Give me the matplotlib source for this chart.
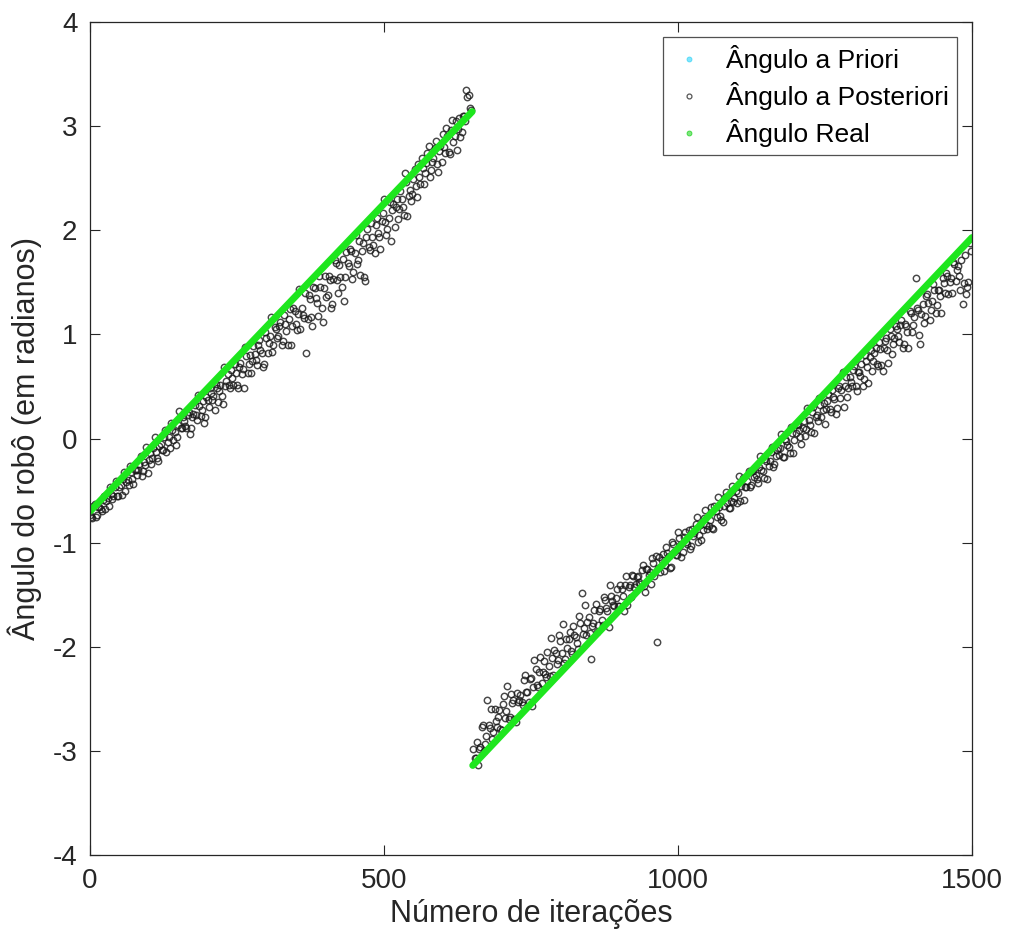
import numpy as np
import matplotlib
matplotlib.use('Agg')
import matplotlib.pyplot as plt
from matplotlib.lines import Line2D

# angulo real (inicio/fim de cada trecho, antes e depois do salto de pi)
real_iter_a = [0, 650]
real_a = [-0.70, 3.14]
real_iter_b = [651, 1500]
real_b = [-3.14, 1.93]

# angulo a posteriori, lido a cada 2 iteracoes (duas passadas: 0 mod 4 e 2 mod 4)
post_a = [
    -0.73, -0.76, -0.63, -0.73, -0.66, -0.70, -0.55, -0.60, -0.65, -0.53,
    -0.55, -0.41, -0.55, -0.45, -0.39, -0.50, -0.40, -0.26, -0.39, -0.30,
    -0.35, -0.24, -0.36, -0.23, -0.08, -0.21, -0.24, -0.09, -0.13, -0.22,
    -0.05, -0.11, 0.08, -0.03, -0.09, 0.08, 0.06, 0.01, 0.26, 0.10,
    0.17, 0.10, 0.25, 0.10, 0.24, 0.23, 0.42, 0.22, 0.36, 0.21,
    0.37, 0.49, 0.37, 0.27, 0.49, 0.46, 0.41, 0.69, 0.55, 0.51,
    0.66, 0.51, 0.63, 0.49, 0.73, 0.67, 0.88, 0.63, 0.80, 0.74,
    0.81, 0.71, 0.95, 0.82, 0.72, 0.97, 0.92, 1.17, 0.90, 1.05,
    0.98, 1.12, 0.94, 1.10, 0.90, 1.24, 1.08, 1.22, 1.04, 1.44,
    1.25, 1.16, 0.82, 1.38, 1.17, 1.46, 1.35, 1.18, 1.46, 1.12,
    1.56, 1.38, 1.52, 1.29, 1.71, 1.52, 1.67, 1.46, 1.32, 1.79,
    1.66, 1.80, 1.60, 1.95, 1.71, 1.57, 1.88, 1.51, 2.01, 1.81,
    1.94, 1.78, 2.12, 1.94, 2.09, 2.30, 1.95, 2.12, 1.90, 2.25,
    2.22, 2.11, 2.38, 2.22, 2.55, 2.14, 2.39, 2.35, 2.59, 2.32,
    2.51, 2.69, 2.44, 2.65, 2.81, 2.58, 2.69, 2.86, 2.56, 2.81,
    2.92, 2.74, 2.91, 2.73, 3.06, 2.91, 2.77, 3.08, 2.94, 3.10,
    3.35, 3.30, 3.16,
]
post_a2 = [
    -0.75, -0.65, -0.75, -0.66, -0.68, -0.59, -0.68, -0.57, -0.47, -0.58,
    -0.47, -0.55, -0.47, -0.54, -0.32, -0.42, -0.45, -0.32, -0.44, -0.30,
    -0.30, -0.17, -0.31, -0.25, -0.33, -0.14, -0.19, 0.01, -0.19, -0.07,
    -0.11, 0.01, -0.13, 0.01, 0.15, -0.01, -0.06, 0.13, 0.10, 0.21,
    0.12, 0.23, 0.04, 0.21, 0.32, 0.18, 0.31, 0.27, 0.15, 0.40,
    0.30, 0.44, 0.41, 0.52, 0.35, 0.51, 0.33, 0.50, 0.62, 0.49,
    0.58, 0.72, 0.51, 0.69, 0.62, 0.49, 0.79, 0.72, 0.63, 0.89,
    0.75, 0.90, 0.85, 0.69, 1.02, 0.82, 0.98, 0.83, 1.07, 0.97,
    1.08, 0.90, 1.19, 1.03, 1.15, 0.90, 1.25, 1.10, 1.20, 1.05,
    1.19, 1.40, 1.15, 1.34, 1.08, 1.45, 1.30, 1.56, 1.25, 1.45,
    1.36, 1.56, 1.25, 1.53, 1.69, 1.40, 1.55, 1.72, 1.55, 1.69,
    1.82, 1.53, 1.78, 1.68, 1.90, 1.80, 1.55, 1.94, 1.84, 2.07,
    1.86, 2.05, 1.97, 1.82, 2.17, 2.08, 2.01, 2.27, 2.19, 2.03,
    2.30, 2.20, 2.30, 2.15, 2.46, 2.33, 2.28, 2.49, 2.43, 2.64,
    2.44, 2.60, 2.55, 2.74, 2.51, 2.66, 2.79, 2.64, 2.76, 2.66,
    2.80, 2.98, 2.75, 2.96, 2.85, 3.05, 2.97, 2.90, 3.10, 3.05,
    3.28, 3.17,
]
post_b = [
    -2.98, -3.07, -3.14, -2.96, -2.75, -2.93, -2.51, -2.78, -2.89, -2.60,
    -2.77, -2.61, -2.80, -2.47, -2.62, -2.69, -2.45, -2.51, -2.72, -2.53,
    -2.46, -2.56, -2.27, -2.43, -2.31, -2.57, -2.13, -2.37, -2.24, -2.35,
    -2.14, -2.29, -2.18, -1.92, -2.27, -2.06, -2.13, -1.94, -1.78, -2.12,
    -2.01, -1.86, -2.07, -1.89, -1.96, -1.70, -1.48, -1.82, -1.89, -1.71,
    -2.12, -1.77, -1.59, -1.79, -1.64, -1.79, -1.55, -1.66, -1.41, -1.56,
    -1.61, -1.45, -1.61, -1.45, -1.66, -1.32, -1.43, -1.52, -1.32, -1.40,
    -1.32, -1.40, -1.21, -1.47, -1.25, -1.28, -1.15, -1.32, -1.95, -1.14,
    -1.17, -1.27, -1.04, -1.13, -1.23, -1.01, -1.12, -0.90, -1.02, -1.09,
    -0.90, -1.01, -1.06, -0.87, -0.91, -0.75, -0.93, -0.97, -0.76, -0.83,
    -0.84, -0.66, -0.87, -0.70, -0.56, -0.74, -0.80, -0.56, -0.62, -0.67,
    -0.46, -0.57, -0.62, -0.36, -0.46, -0.59, -0.47, -0.31, -0.45, -0.31,
    -0.35, -0.43, -0.17, -0.31, -0.20, -0.39, -0.22, -0.08, -0.24, -0.11,
    -0.16, 0.04, -0.18, -0.02, -0.08, 0.11, -0.14, 0.05, 0.13, 0.01,
    0.10, 0.02, 0.29, 0.13, 0.25, 0.05, 0.23, 0.39, 0.21, 0.34,
    0.28, 0.43, 0.25, 0.40, 0.24, 0.49, 0.39, 0.64, 0.50, 0.40,
    0.59, 0.50, 0.70, 0.46, 0.64, 0.72, 0.57, 0.74, 0.53, 0.85,
    0.74, 0.87, 0.70, 0.86, 0.65, 0.94, 0.85, 1.05, 0.81, 0.97,
    1.05, 0.93, 1.14, 0.91, 1.08, 0.87, 1.21, 1.09, 1.54, 1.23,
    0.91, 1.29, 1.18, 1.39, 1.14, 1.32, 1.43, 1.28, 1.43, 1.21,
    1.49, 1.59, 1.39, 1.54, 1.70, 1.51, 1.66, 1.43, 1.29, 1.76,
    1.46, 1.88,
]
post_b2 = [
    -3.07, -2.91, -2.98, -2.77, -3.00, -2.86, -2.75, -2.60, -2.82, -2.71,
    -2.67, -2.79, -2.55, -2.68, -2.38, -2.67, -2.54, -2.69, -2.44, -2.51,
    -2.53, -2.32, -2.43, -2.53, -2.30, -2.39, -2.21, -2.39, -2.10, -2.24,
    -2.26, -2.05, -2.28, -2.11, -2.03, -2.17, -1.89, -2.06, -2.16, -1.93,
    -1.93, -2.04, -1.80, -1.91, -2.02, -1.77, -1.88, -1.60, -1.76, -1.87,
    -1.80, -1.65, -1.86, -1.66, -1.74, -1.52, -1.63, -1.81, -1.51, -1.60,
    -1.53, -1.61, -1.41, -1.51, -1.41, -1.60, -1.41, -1.31, -1.43, -1.33,
    -1.38, -1.26, -1.42, -1.25, -1.31, -1.40, -1.20, -1.13, -1.24, -1.28,
    -1.11, -1.21, -1.10, -1.24, -0.99, -1.09, -1.12, -0.96, -1.14, -0.95,
    -0.99, -0.88, -1.03, -0.94, -0.82, -0.99, -0.83, -0.88, -0.69, -0.87,
    -0.78, -0.86, -0.65, -0.75, -0.66, -0.78, -0.65, -0.51, -0.67, -0.60,
    -0.61, -0.50, -0.52, -0.60, -0.38, -0.47, -0.41, -0.47, -0.31, -0.37,
    -0.39, -0.27, -0.30, -0.38, -0.22, -0.26, -0.13, -0.27, -0.17, -0.09,
    -0.09, -0.18, 0.00, -0.06, -0.14, 0.05, -0.01, 0.14, 0.08, -0.05,
    0.17, 0.09, 0.18, 0.06, 0.30, 0.21, 0.17, 0.32, 0.27, 0.14,
    0.36, 0.28, 0.47, 0.38, 0.29, 0.50, 0.47, 0.30, 0.59, 0.49,
    0.54, 0.66, 0.50, 0.64, 0.60, 0.50, 0.80, 0.69, 0.78, 0.65,
    0.82, 0.72, 0.93, 0.71, 0.87, 0.97, 0.73, 0.98, 0.91, 1.08,
    0.98, 1.09, 0.87, 1.10, 1.02, 1.22, 1.02, 1.17, 1.25, 0.99,
    1.20, 1.11, 1.37, 1.30, 1.23, 1.48, 1.21, 1.43, 1.37, 1.54,
    1.40, 1.56, 1.50, 1.40, 1.68, 1.62, 1.56, 1.71, 1.49, 1.39,
    1.50, 1.80,
]
iter_a = np.arange(0, 650, 4)
iter_a2 = np.arange(2, 650, 4)
iter_b = np.arange(652, 1500, 4)
iter_b2 = np.arange(654, 1500, 4)

plt.rcParams['font.family'] = ['Liberation Sans', 'DejaVu Sans']
plt.rcParams['axes.unicode_minus'] = False
cor_eixo = '#262626'

fig = plt.figure(figsize=(10.13, 9.5), dpi=100)
ax = fig.add_axes([0.0888, 0.1, 0.8707, 0.8768])

estilo_post = dict(ls='', marker='o', ms=4.6, mfc='none', mec='#1a1a1a',
                   mew=1.05, alpha=0.8)
for xs, ys in [(iter_a, post_a), (iter_a2, post_a2), (iter_b, post_b), (iter_b2, post_b2)]:
    ax.plot(xs, ys, **estilo_post)
ax.plot(real_iter_a, real_a, '-', color='#1ee61e', lw=5, solid_capstyle='round')
ax.plot(real_iter_b, real_b, '-', color='#1ee61e', lw=5, solid_capstyle='round')

ax.set_xlim(0, 1500)
ax.set_ylim(-4, 4)
ax.set_xticks([0, 500, 1000, 1500])
ax.set_yticks(range(-4, 5))
ax.tick_params(direction='in', length=7, width=0.8, colors=cor_eixo,
               labelsize=20, top=True, right=True, pad=9)
for s in ax.spines.values():
    s.set_color(cor_eixo)
    s.set_linewidth(0.9)

ax.set_xlabel('Número de iterações', fontsize=22, color=cor_eixo, labelpad=4)
ax.set_ylabel('Ângulo do robô (em radianos)', fontsize=22, color=cor_eixo,
              labelpad=8)

# legenda (priori nao aparece no grafico, so na legenda)
hand = [
    Line2D([], [], ls='', marker='o', ms=3.5, mfc='#7fe6ff', mec='#4dd8f5', mew=0.6),
    Line2D([], [], ls='', marker='o', ms=3.5, mfc='none', mec='#555555', mew=0.9),
    Line2D([], [], ls='', marker='o', ms=3.5, mfc='#7fe67f', mec='#33d833', mew=0.6),
]
leg = ax.legend(hand, ['Ângulo a Priori', 'Ângulo a Posteriori', 'Ângulo Real'],
                loc='upper right', bbox_to_anchor=(0.983, 0.982), borderaxespad=0,
                fontsize=19, frameon=True, fancybox=False, edgecolor=cor_eixo,
                handlelength=1.4, handletextpad=0.7, borderpad=0.3,
                labelspacing=0.35)
leg.get_frame().set_linewidth(0.9)

plt.savefig('out.png', dpi=100)
